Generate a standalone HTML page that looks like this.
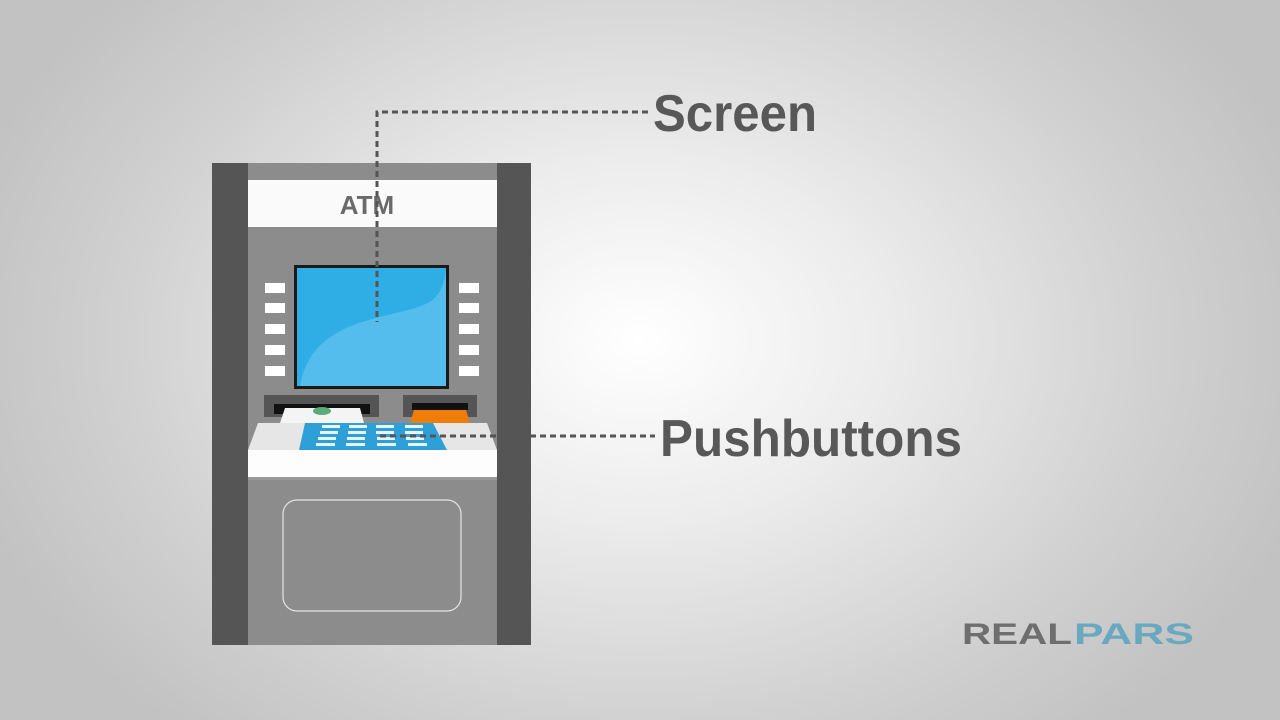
<!DOCTYPE html>
<html><head><meta charset="utf-8"><style>
html,body{margin:0;padding:0;width:1280px;height:720px;overflow:hidden}
body{background:radial-gradient(ellipse 700px 520px at 640px 340px,#ffffff 0%,#ececec 35%,#d0d0d0 75%,#c2c2c2 100%)}
svg{position:absolute;left:0;top:0}
</style></head><body>
<svg width="1280" height="720" viewBox="0 0 1280 720">
<!-- cabinet -->
<rect x="212" y="163" width="319" height="482" fill="#8c8c8c"/>
<rect x="212" y="163" width="36" height="482" fill="#555"/>
<rect x="497" y="163" width="34" height="482" fill="#555"/>
<rect x="248" y="180" width="249" height="47" fill="#fafafa"/>
<text x="367" y="214" font-family="Liberation Sans, sans-serif" font-weight="bold" font-size="26" fill="#6a6a6a" text-anchor="middle">ATM</text>
<!-- screen -->
<rect x="294" y="265" width="155" height="124" fill="#1a1a1a"/>
<rect x="297" y="268" width="149" height="118" fill="#2eaee4"/>
<path d="M300 386 C310 330 360 322 400 312 C430 305 442 300 446 270 L446 386 Z" fill="#55bdee"/>
<!-- side buttons -->
<g fill="#fff">
<rect x="265" y="283" width="20" height="10"/><rect x="265" y="303" width="20" height="10"/><rect x="265" y="324" width="20" height="10"/><rect x="265" y="345" width="20" height="10"/><rect x="265" y="366" width="20" height="10"/>
<rect x="459" y="283" width="20" height="10"/><rect x="459" y="303" width="20" height="10"/><rect x="459" y="324" width="20" height="10"/><rect x="459" y="345" width="20" height="10"/><rect x="459" y="366" width="20" height="10"/>
</g>
<!-- slots -->
<rect x="264" y="395" width="115" height="22" fill="#555"/>
<rect x="274" y="404" width="96" height="10" fill="#111"/>
<path d="M285 408 L360 408 L364 423 L280 423 Z" fill="#f4f4f4"/>
<ellipse cx="322" cy="411" rx="9" ry="4" fill="#5aaa7a"/>
<rect x="403" y="395" width="74" height="22" fill="#555"/>
<rect x="412" y="403" width="56" height="7" fill="#111"/>
<path d="M414 410 L466 410 L470 423 L410 423 Z" fill="#ee7d0a"/>
<!-- keyboard -->
<path d="M258 423 L487 423 L497 450 L248 450 Z" fill="#e6e6e6"/>
<path d="M305 423 L433 423 L447 450 L299 450 Z" fill="#2f9fd8"/>
<g fill="#e8f4fb">
<rect x="322" y="425" width="18" height="3"/><rect x="349" y="425" width="18" height="3"/><rect x="376" y="425" width="18" height="3"/><rect x="405" y="425" width="18" height="3"/>
<rect x="320" y="431" width="18" height="3"/><rect x="348" y="431" width="18" height="3"/><rect x="376" y="431" width="18" height="3"/><rect x="405" y="431" width="18" height="3"/>
<rect x="318" y="437" width="18" height="3"/><rect x="347" y="437" width="18" height="3"/><rect x="377" y="437" width="18" height="3"/><rect x="406" y="437" width="18" height="3"/>
<rect x="316" y="443" width="19" height="3"/><rect x="346" y="443" width="19" height="3"/><rect x="377" y="443" width="19" height="3"/><rect x="408" y="443" width="19" height="3"/>
</g>
<rect x="248" y="450" width="249" height="27" fill="#fdfdfd"/>
<rect x="248" y="477" width="249" height="3" fill="#999"/>
<rect x="283" y="500" width="178" height="111" rx="14" fill="none" stroke="#e4e4e4" stroke-width="1.2"/>
<!-- leader lines -->
<g stroke="#555" stroke-width="3" stroke-dasharray="6 4" fill="none">
<path d="M648 112 L377 112 L377 322"/>
<path d="M380 436 L655 436"/>
</g>
<text x="653" y="131" font-family="Liberation Sans, sans-serif" font-weight="bold" font-size="52" fill="#585858" textLength="164" lengthAdjust="spacingAndGlyphs">Screen</text>
<text x="660" y="456" font-family="Liberation Sans, sans-serif" font-weight="bold" font-size="52" fill="#585858" textLength="302" lengthAdjust="spacingAndGlyphs">Pushbuttons</text>
<!-- logo -->
<text x="962" y="644" font-family="Liberation Sans, sans-serif" font-weight="bold" font-size="30" fill="#6e6e6e" textLength="110" lengthAdjust="spacingAndGlyphs">REAL</text>
<text x="1074" y="644" font-family="Liberation Sans, sans-serif" font-weight="bold" font-size="30" fill="#6aa8bf" textLength="120" lengthAdjust="spacingAndGlyphs">PARS</text>
</svg>
</body></html>
